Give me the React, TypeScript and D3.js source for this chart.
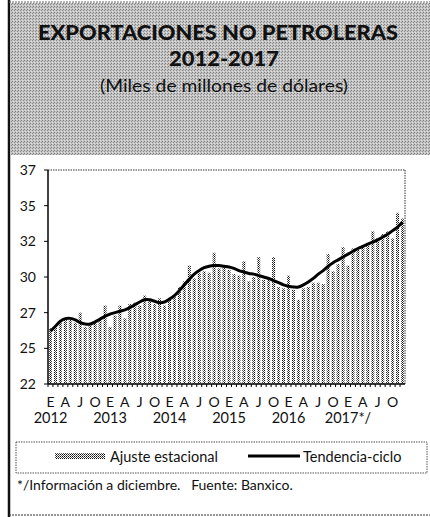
import React from "react";
import * as d3 from "d3";

const years = ["2012", "2013", "2014", "2015", "2016", "2017*/"];
const monthLetters = ["E", "A", "J", "O"];
const yTickValues = [22, 24.5, 27, 29.5, 32, 34.5, 37];
const yTickLabels = ["22", "25", "27", "30", "32", "35", "37"];

// Ajuste estacional (monthly, Jan 2012 - Dec 2017)
const ajuste = [
  25.9, 26.1, 26.4, 26.6, 26.5, 26.3, 27.0, 26.0, 26.2, 26.3, 26.5, 27.5,
  26.0, 26.8, 27.5, 26.6, 27.6, 27.7, 27.5, 28.2, 27.9, 27.6, 28.0, 27.5,
  27.9, 28.3, 28.8, 29.2, 30.3, 29.4, 29.8, 29.9, 29.8, 31.2, 30.1, 30.2,
  30.0, 29.7, 29.6, 30.6, 29.2, 29.5, 30.9, 29.3, 29.4, 30.9, 28.8, 28.7,
  29.6, 28.6, 27.9, 28.7, 28.8, 29.1, 29.1, 29.0, 31.1, 29.9, 30.4, 31.6,
  30.3, 31.5, 31.4, 31.7, 31.9, 32.7, 32.2, 32.5, 32.7, 32.2, 34.0, 33.6,
];

// Tendencia-ciclo
const tendencia = [
  25.7, 26.05, 26.4, 26.58, 26.6, 26.5, 26.3, 26.2, 26.2, 26.35, 26.55, 26.75,
  26.9, 27.0, 27.1, 27.2, 27.35, 27.55, 27.75, 27.9, 27.9, 27.8, 27.7, 27.75,
  27.95, 28.2, 28.55, 28.95, 29.35, 29.7, 29.95, 30.15, 30.25, 30.3, 30.3, 30.25,
  30.2, 30.1, 29.95, 29.85, 29.75, 29.7, 29.6, 29.5, 29.4, 29.25, 29.1, 28.95,
  28.85, 28.8, 28.8, 28.95, 29.15, 29.4, 29.7, 29.95, 30.25, 30.5, 30.7, 30.9,
  31.1, 31.3, 31.5, 31.65, 31.8, 31.95, 32.1, 32.3, 32.5, 32.75, 33.0, 33.35,
];

const W = 430;
const H = 517;
const plot = { left: 48, right: 405, top: 170, bottom: 384 };
const FONT = "Lato, 'Open Sans', sans-serif";

export default function App() {
  const idx = d3.range(ajuste.length);
  const x = d3
    .scaleBand<number>()
    .domain(idx)
    .range([plot.left, plot.right])
    .padding(0);
  const y = d3.scaleLinear().domain([22, 37]).range([plot.bottom, plot.top]);
  const bw = x.bandwidth();
  const cx = (i: number) => (x(i) as number) + bw / 2;

  const line = d3
    .line<number>()
    .x((_, i) => cx(i))
    .y((d) => y(d))
    .curve(d3.curveCatmullRom.alpha(0.5));

  return (
    <svg
      width={W}
      height={H}
      style={{ position: "absolute", left: 0, top: 0, background: "#fff" }}
    >
      <defs>
        <pattern id="barPat" width="2" height="2" patternUnits="userSpaceOnUse">
          <rect width="2" height="2" fill="#ffffff" />
          <rect x="0" y="0" width="1" height="1" fill="#111" />
          <rect x="1" y="1" width="1" height="1" fill="#555" />
        </pattern>
        <pattern id="grayPat" width="3" height="3" patternUnits="userSpaceOnUse">
          <rect width="3" height="3" fill="#c4c4c4" />
          <rect x="0" y="0" width="1" height="1" fill="#7e7e7e" />
          <rect x="2" y="1" width="1" height="1" fill="#8e8e8e" />
          <rect x="1" y="2" width="1" height="1" fill="#e2e2e2" />
        </pattern>
      </defs>

      {/* title background */}
      <rect x={11} y={3} width={W - 11} height={152} fill="url(#grayPat)" />
      {/* outer borders */}
      <line x1={9} x2={9} y1={0} y2={H} stroke="#111" strokeWidth={2.5} />
      <line x1={9} x2={W} y1={2} y2={2} stroke="#666" strokeWidth={1} strokeDasharray="2 1" />
      <line x1={9} x2={W} y1={515} y2={515} stroke="#333" strokeWidth={1} strokeDasharray="2 1" />

      <text
        x={218}
        y={40}
        textAnchor="middle"
        fontFamily={FONT}
        fontWeight={900}
        fontSize={20}
        textLength={360}
        lengthAdjust="spacingAndGlyphs"
        fill="#111"
      >
        EXPORTACIONES NO PETROLERAS
      </text>
      <text
        x={224}
        y={66}
        textAnchor="middle"
        fontFamily={FONT}
        fontWeight={900}
        fontSize={20}
        textLength={110}
        lengthAdjust="spacingAndGlyphs"
        fill="#111"
      >
        2012-2017
      </text>
      <text
        x={224}
        y={92}
        textAnchor="middle"
        fontFamily={FONT}
        fontSize={18}
        textLength={248}
        lengthAdjust="spacingAndGlyphs"
        fill="#111"
      >
        (Miles de millones de dólares)
      </text>

      {/* plot frame (dotted top/right) */}
      <line x1={plot.left} x2={plot.right} y1={plot.top} y2={plot.top} stroke="#333" strokeDasharray="1.5 1" />
      <line x1={plot.right} x2={plot.right} y1={plot.top} y2={plot.bottom} stroke="#333" strokeDasharray="1.5 1" />

      {/* bars */}
      {ajuste.map((v, i) => (
        <rect
          key={i}
          x={cx(i) - 1.5}
          y={y(v)}
          width={3}
          height={plot.bottom - y(v)}
          fill="url(#barPat)"
        />
      ))}

      {/* trend line */}
      <path d={line(tendencia) || ""} fill="none" stroke="#000" strokeWidth={3} strokeLinejoin="round" />

      {/* y axis */}
      <line x1={plot.left} x2={plot.left} y1={plot.top} y2={plot.bottom} stroke="#000" strokeWidth={1.5} />
      {yTickValues.map((t, k) => (
        <g key={t}>
          <line x1={plot.left - 4} x2={plot.left} y1={y(t)} y2={y(t)} stroke="#000" />
          <text
            x={36}
            y={y(t) + 5}
            textAnchor="end"
            fontFamily={FONT}
            fontSize={14}
            fill="#111"
          >
            {yTickLabels[k]}
          </text>
        </g>
      ))}

      {/* x axis */}
      <line x1={plot.left} x2={plot.right} y1={plot.bottom} y2={plot.bottom} stroke="#000" strokeWidth={1.5} />
      {idx.map((i) => (
        <line
          key={i}
          x1={x(i) as number}
          x2={x(i) as number}
          y1={plot.bottom}
          y2={plot.bottom + 3}
          stroke="#000"
        />
      ))}
      {idx
        .filter((i) => i % 3 === 0)
        .map((i) => (
          <text
            key={i}
            x={cx(i)}
            y={407}
            textAnchor="middle"
            fontFamily={FONT}
            fontSize={14}
            fill="#111"
          >
            {monthLetters[(i % 12) / 3]}
          </text>
        ))}
      {years.map((yr, k) => (
        <text
          key={yr}
          x={cx(k * 12)}
          y={423}
          textAnchor="middle"
          fontFamily={FONT}
          fontSize={14.5}
          fill="#111"
        >
          {yr}
        </text>
      ))}

      {/* legend */}
      <rect x={16} y={442} width={411} height={31} fill="none" stroke="#555" strokeDasharray="1.5 1" />
      <rect x={55} y={453} width={50} height={6} fill="#444" />
      <rect x={55} y={453} width={50} height={6} fill="url(#barPat)" />
      <text x={110} y={462} fontFamily={FONT} fontSize={14.5} fill="#111">
        Ajuste estacional
      </text>
      <line x1={248} x2={300} y1={456} y2={456} stroke="#000" strokeWidth={3} />
      <text x={303} y={462} fontFamily={FONT} fontSize={14.5} fill="#111">
        Tendencia-ciclo
      </text>

      {/* footnote */}
      <text x={17} y={490} fontFamily={FONT} fontSize={14} fill="#111" xmlSpace="preserve">
        {"*/Información a diciembre.   Fuente: Banxico."}
      </text>
    </svg>
  );
}
